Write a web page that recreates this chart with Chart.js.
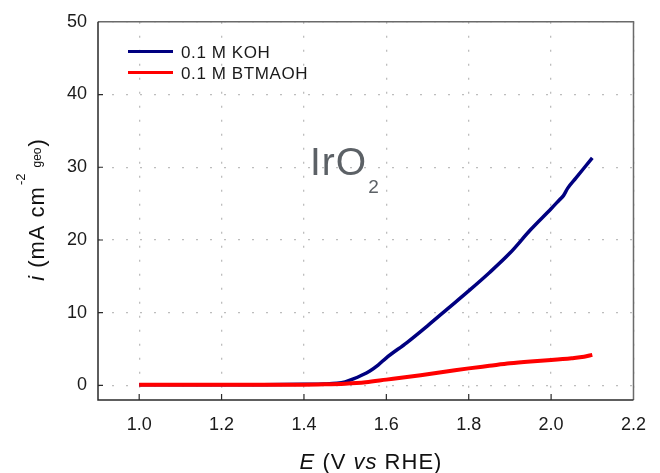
<!DOCTYPE html>
<html lang="en">
<head>
  <meta charset="UTF-8" />
  <title>IrO2 – LSV in KOH and BTMAOH</title>
  <script src="https://cdn.jsdelivr.net/npm/chart.js"></script>
  <style>
    html, body {
      margin: 0;
      padding: 0;
      background: #fff;
    }
    #wrap {
      width: 660px;
      height: 473px;
    }
  </style>
</head>
<body>
  <div id="wrap"><canvas id="lsv"></canvas></div>

  <script>
    // E (V vs RHE) and current density (mA cm-2 geo)
    const potentialKOH = [1.00, 1.10, 1.20, 1.30, 1.40, 1.45, 1.48, 1.50, 1.52, 1.54, 1.56, 1.58, 1.60, 1.65, 1.70, 1.75, 1.80, 1.85, 1.90, 1.95, 2.00, 2.02, 2.03, 2.04, 2.06, 2.08, 2.10];
    const currentKOH = [0.1, 0.1, 0.1, 0.1, 0.15, 0.2, 0.3, 0.5, 0.9, 1.4, 2.0, 2.8, 3.8, 5.9, 8.2, 10.6, 13.0, 15.5, 18.2, 21.4, 24.3, 25.5, 26.1, 27.1, 28.5, 29.9, 31.3];

    const potentialBTMA = [1.00, 1.20, 1.40, 1.45, 1.50, 1.55, 1.60, 1.65, 1.70, 1.75, 1.80, 1.85, 1.90, 1.95, 2.00, 2.05, 2.08, 2.10];
    const currentBTMA = [0.1, 0.1, 0.1, 0.15, 0.25, 0.45, 0.8, 1.15, 1.55, 1.95, 2.35, 2.7, 3.05, 3.3, 3.5, 3.75, 3.95, 4.2];

    const seriesNames = ["0.1 M KOH", "0.1 M BTMAOH"];
    const seriesColors = ["#000080", "#ff0000"];

    const xTicks = [1.0, 1.2, 1.4, 1.6, 1.8, 2.0, 2.2];
    const yTicks = [0, 10, 20, 30, 40, 50];

    const FONT = "'Liberation Sans', Arial, sans-serif";

    const toPoints = (xs, ys) => xs.map((x, i) => ({ x: x, y: ys[i] }));

    // writes a run of text pieces (italics, sub/superscripts) from x, y
    function richText(ctx, pieces, x, y) {
      let cx = x;
      pieces.forEach(p => {
        ctx.font = p.font;
        ctx.letterSpacing = p.ls || "0px";
        cx += p.pre || 0;
        ctx.fillText(p.text, cx, y + (p.dy || 0));
        cx += ctx.measureText(p.text).width;
      });
      ctx.letterSpacing = "0px";
      return cx - x;
    }

    function richWidth(ctx, pieces) {
      let w = 0;
      pieces.forEach(p => {
        ctx.font = p.font;
        ctx.letterSpacing = p.ls || "0px";
        w += (p.pre || 0) + ctx.measureText(p.text).width;
      });
      ctx.letterSpacing = "0px";
      return w;
    }

    const decorations = {
      id: "decorations",
      afterDraw(chart) {
        const ctx = chart.ctx;
        const a = chart.chartArea;
        const xs = chart.scales.x;
        const ys = chart.scales.y;
        ctx.save();

        // frame
        ctx.lineWidth = 1.5;
        ctx.strokeStyle = "#6a6a6a";
        ctx.beginPath();
        ctx.moveTo(a.left, a.top);
        ctx.lineTo(a.right, a.top);
        ctx.lineTo(a.right, a.bottom);
        ctx.stroke();
        ctx.strokeStyle = "#2a2a2a";
        ctx.beginPath();
        ctx.moveTo(a.left, a.top);
        ctx.lineTo(a.left, a.bottom);
        ctx.lineTo(a.right, a.bottom);
        ctx.stroke();

        // inward tick marks
        ctx.lineWidth = 1.2;
        ctx.beginPath();
        xTicks.forEach(v => {
          const px = xs.getPixelForValue(v);
          if (px > a.left + 1 && px < a.right - 1) {
            ctx.moveTo(px, a.bottom);
            ctx.lineTo(px, a.bottom - 6);
          }
        });
        yTicks.forEach(v => {
          const py = ys.getPixelForValue(v);
          if (py > a.top + 1 && py < a.bottom - 1) {
            ctx.moveTo(a.left, py);
            ctx.lineTo(a.left + 5, py);
          }
        });
        ctx.stroke();

        // legend
        ctx.lineCap = "butt";
        ctx.textAlign = "left";
        ctx.textBaseline = "alphabetic";
        ctx.fillStyle = "#1a1a1a";
        ctx.font = "17px " + FONT;
        seriesNames.forEach((name, i) => {
          const ly = 51.5 + i * 21;
          ctx.strokeStyle = seriesColors[i];
          ctx.lineWidth = 3;
          ctx.beginPath();
          ctx.moveTo(a.left + 30, ly);
          ctx.lineTo(a.left + 75, ly);
          ctx.stroke();
          ctx.letterSpacing = "0.6px";
          ctx.fillText(name, a.left + 83, ly + 6.5);
          ctx.letterSpacing = "0px";
        });

        // sample label
        ctx.fillStyle = "#5c6166";
        richText(ctx, [
          { text: "IrO", font: "39px " + FONT, ls: "1px" },
          { text: "2", font: "19px " + FONT, dy: 18, pre: 1 }
        ], 310, 175);

        // x title
        ctx.fillStyle = "#111";
        const xt = [
          { text: "E", font: "italic 22px " + FONT, ls: "1px" },
          { text: " (V ", font: "22px " + FONT, ls: "1px" },
          { text: "vs", font: "italic 22px " + FONT, ls: "1px" },
          { text: " RHE)", font: "22px " + FONT, ls: "1px" }
        ];
        const xw = richWidth(ctx, xt);
        richText(ctx, xt, 371 - xw / 2, 469);

        // y title, rotated
        const yt = [
          { text: "i", font: "italic 22px " + FONT, ls: "1px" },
          { text: " (mA cm", font: "22px " + FONT, ls: "1px" },
          { text: "-2", font: "13px " + FONT, dy: -19, pre: 1 },
          { text: "geo", font: "12px " + FONT, dy: -3, pre: 6 },
          { text: ")", font: "22px " + FONT, pre: 1 }
        ];
        const yw = richWidth(ctx, yt);
        ctx.translate(44, 210);
        ctx.rotate(-Math.PI / 2);
        richText(ctx, yt, -yw / 2, 0);

        ctx.restore();
      }
    };

    const ctx = document.getElementById("lsv").getContext("2d");
    const lsvChart = new Chart(ctx, {
      type: "scatter",
      data: {
        datasets: [
          {
            label: seriesNames[0],
            data: toPoints(potentialKOH, currentKOH),
            borderColor: seriesColors[0],
            borderWidth: 3.5,
            showLine: true,
            pointRadius: 0,
            cubicInterpolationMode: "monotone",
            order: 2
          },
          {
            label: seriesNames[1],
            data: toPoints(potentialBTMA, currentBTMA),
            borderColor: seriesColors[1],
            borderWidth: 4,
            showLine: true,
            pointRadius: 0,
            cubicInterpolationMode: "monotone",
            order: 1
          }
        ]
      },
      options: {
        responsive: true,
        maintainAspectRatio: false,
        animation: false,
        layout: {
          padding: { top: 19, right: 17, bottom: 0, left: 0 }
        },
        plugins: {
          legend: { display: false },
          tooltip: { enabled: false }
        },
        scales: {
          x: {
            type: "linear",
            min: 0.9,
            max: 2.2,
            afterBuildTicks: s => { s.ticks = xTicks.map(v => ({ value: v })); },
            afterFit: s => { s.height = 73; },
            ticks: {
              callback: v => v.toFixed(1),
              color: "#1a1a1a",
              font: { family: FONT, size: 18 },
              padding: 14,
              maxRotation: 0
            },
            grid: {
              color: "#bdbdbd",
              lineWidth: 1.3,
              drawTicks: false
            },
            border: { display: false, dash: [2, 12] }
          },
          y: {
            type: "linear",
            min: -2,
            max: 50,
            afterBuildTicks: s => { s.ticks = yTicks.map(v => ({ value: v })); },
            afterFit: s => { s.width = 98; },
            ticks: {
              color: "#1a1a1a",
              font: { family: FONT, size: 18 },
              padding: 11
            },
            grid: {
              color: "#bdbdbd",
              lineWidth: 1.3,
              drawTicks: false
            },
            border: { display: false, dash: [2, 12] }
          }
        }
      },
      plugins: [decorations]
    });
  </script>
</body>
</html>
